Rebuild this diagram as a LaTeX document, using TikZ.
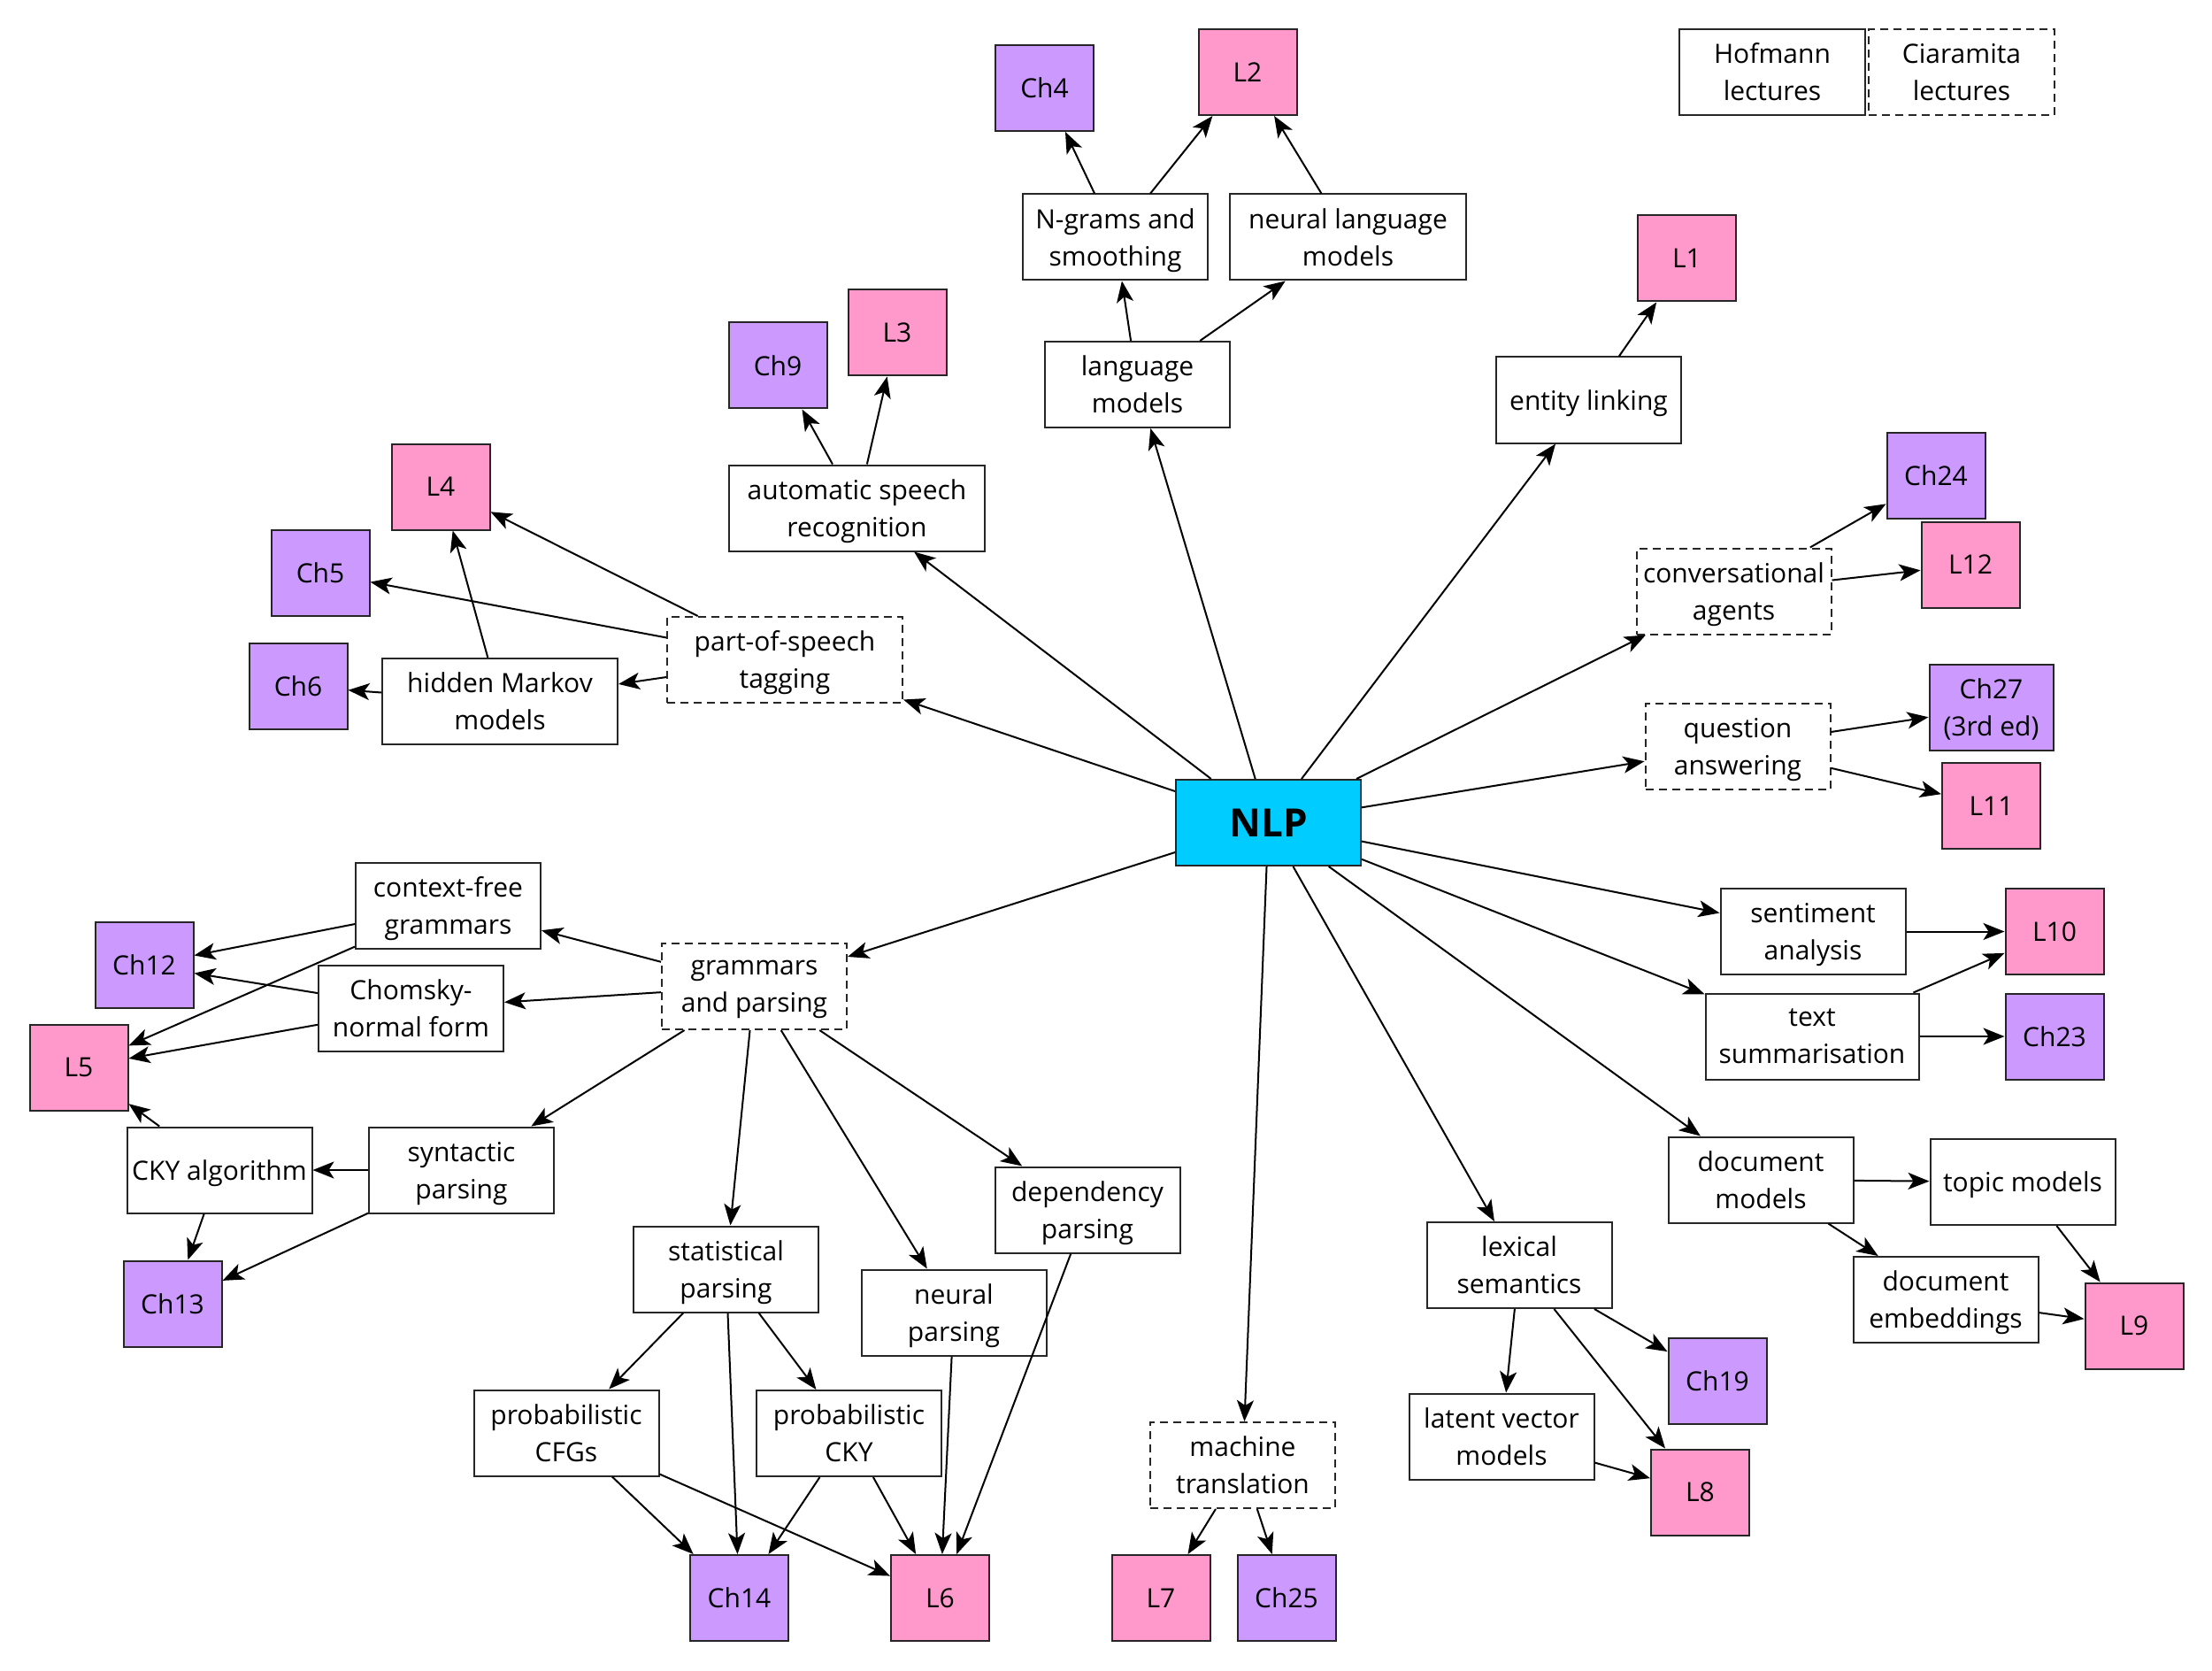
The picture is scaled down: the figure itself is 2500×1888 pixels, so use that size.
\documentclass[tikz,border=0pt]{standalone}
\usepackage{fontspec}
\setmainfont{Open Sans}
\usetikzlibrary{arrows.meta}
\definecolor{chapcol}{HTML}{CC99FF}
\definecolor{lectcol}{HTML}{FF99CC}
\definecolor{nlpcol}{HTML}{00CCFF}
% a line whose descenders do not count when the text is centred in its box
\newcommand\nodesc[1]{\raisebox{0pt}[\height][0pt]{#1}}
\begin{document}
\begin{tikzpicture}[x=0.5pt,y=-0.5pt,
  every node/.style={font=\fontsize{15}{21}\selectfont},
  topic/.style={draw=black!85, line width=1pt, fill=white, align=center,
    inner sep=0pt, minimum width=104.5pt, minimum height=48.5pt},
  ciaramita/.style={topic, dash pattern=on 4.5pt off 3pt},
  chapter/.style={draw=black!85, line width=1pt, fill=chapcol, align=center,
    inner sep=0pt, minimum width=55.5pt, minimum height=48.5pt},
  lecture/.style={chapter, fill=lectcol},
  hub/.style={draw=black!85, line width=1pt, fill=nlpcol, inner sep=0pt,
    minimum width=104.5pt, minimum height=48.5pt,
    font=\fontsize{22}{26}\selectfont\bfseries},
  link/.style={-{Stealth[length=12pt,width=9.5pt,inset=3pt]}, line width=1pt}
]
\fill[white] (0,0) rectangle (2500,1888);
\useasboundingbox (0,0) rectangle (2500,1888);

% legend
\node[topic, minimum width=105pt] (hof) at (2003,81.5) {Hofmann\\lectures};
\node[ciaramita, minimum width=105pt] (cia) at (2217,81.5) {Ciaramita\\lectures};

% centre
\node[hub] (nlp) at (1433.5,929.5) {NLP};

% language models
\node[lecture] (L2) at (1410,81.5) {L2};
\node[chapter] (Ch4) at (1180.5,99.5) {Ch4};
\node[topic] (ngram) at (1260.5,268) {N-grams and\\\nodesc{smoothing}};
\node[topic, minimum width=133.5pt] (nlm) at (1523.5,268) {neural language\\models};
\node[topic] (lm) at (1285.5,434.5) {language\\models};

% entity linking
\node[lecture] (L1) at (1906.5,292) {L1};
\node[topic] (el) at (1795.5,452) {\nodesc{entity linking}};

% speech recognition
\node[chapter] (Ch9) at (879,413) {Ch9};
\node[lecture] (L3) at (1014,376) {L3};
\node[topic, minimum width=144.5pt] (asr) at (968.5,574) {automatic speech\\\nodesc{recognition}};

% tagging
\node[lecture] (L4) at (498,550) {L4};
\node[chapter] (Ch5) at (362,647) {Ch5};
\node[chapter] (Ch6) at (337,775.5) {Ch6};
\node[topic, minimum width=133pt] (hmm) at (565,792.5) {hidden Markov\\models};
\node[ciaramita, minimum width=133pt] (pos) at (887,745.5) {part-of-speech\\\nodesc{tagging}};

% dialogue and QA
\node[chapter] (Ch24) at (2188,537) {Ch24};
\node[lecture] (L12) at (2227,638) {L12};
\node[ciaramita, minimum width=110pt] (conv) at (1959.5,668) {conversational\\\nodesc{agents}};
\node[chapter, minimum width=70pt] (Ch27) at (2250.5,799.5) {Ch27\\\nodesc{(3rd ed)}};
\node[lecture] (L11) at (2250.5,910.5) {L11};
\node[ciaramita] (qa) at (1964,843) {question\\\nodesc{answering}};

% grammars and parsing
\node[topic] (cfg) at (506.5,1023.5) {context-free\\\nodesc{grammars}};
\node[topic] (cnf) at (464.5,1139) {Chomsky-\\normal form};
\node[chapter] (Ch12) at (163,1090.5) {Ch12};
\node[lecture] (L5) at (89,1206) {L5};
\node[ciaramita] (gp) at (852.5,1114.5) {grammars\\\nodesc{and parsing}};
\node[topic] (cky) at (248,1322) {\nodesc{CKY algorithm}};
\node[topic] (synp) at (521.5,1322) {syntactic\\\nodesc{parsing}};
\node[chapter] (Ch13) at (195,1473) {Ch13};
\node[topic] (statp) at (820.5,1434) {statistical\\\nodesc{parsing}};
\node[topic] (neurp) at (1078,1483) {neural\\\nodesc{parsing}};
\node[topic] (depp) at (1229,1367) {dependency\\\nodesc{parsing}};
\node[topic] (pcfg) at (640,1619) {probabilistic\\CFGs};
\node[topic] (pcky) at (959.5,1619.5) {probabilistic\\CKY};
\node[chapter] (Ch14) at (835.5,1805.5) {Ch14};
\node[lecture] (L6) at (1062.5,1805.5) {L6};

% machine translation
\node[ciaramita] (mt) at (1404.5,1655.5) {machine\\translation};
\node[lecture] (L7) at (1312,1805.5) {L7};
\node[chapter] (Ch25) at (1454,1805.5) {Ch25};

% sentiment and summarisation
\node[topic] (sent) at (2049,1052.5) {sentiment\\\nodesc{analysis}};
\node[lecture] (L10) at (2322,1052.5) {L10};
\node[topic, minimum width=120.5pt] (summ) at (2048,1171) {text\\summarisation};
\node[chapter] (Ch23) at (2322,1171) {Ch23};

% document models
\node[topic] (docm) at (1990,1333) {document\\models};
\node[topic] (topm) at (2286,1335.5) {\nodesc{topic models}};
\node[topic] (doce) at (2199,1468.5) {document\\\nodesc{embeddings}};
\node[lecture] (L9) at (2412,1498) {L9};

% lexical semantics
\node[topic] (lex) at (1717,1429.5) {lexical\\semantics};
\node[chapter] (Ch19) at (1941,1560) {Ch19};
\node[topic] (lvm) at (1697,1623) {latent vector\\models};
\node[lecture] (L8) at (1921.5,1686) {L8};

% connectors
\foreach \t in {lm,el,asr,pos,conv,qa,gp,sent,summ,docm,lex,mt}
  \draw[link] (nlp) -- (\t);
\draw[link] (lm) -- (ngram);
\draw[link] (lm) -- (nlm);
\draw[link] (ngram) -- (Ch4);
\draw[link] (ngram) -- (L2);
\draw[link] (nlm) -- (L2);
\draw[link] (el) -- (L1);
\draw[link] (asr) -- (Ch9);
\draw[link] (asr) -- (L3);
\draw[link] (pos) -- (L4);
\draw[link] (pos) -- (Ch5);
\draw[link] (pos) -- (hmm);
\draw[link] (hmm) -- (L4);
\draw[link] (hmm) -- (Ch6);
\draw[link] (conv) -- (Ch24);
\draw[link] (conv) -- (L12);
\draw[link] (qa) -- (Ch27);
\draw[link] (qa) -- (L11);
\foreach \t in {cfg,cnf,synp,statp,neurp,depp}
  \draw[link] (gp) -- (\t);
\draw[link] (cfg) -- (Ch12);
\draw[link] (cfg) -- (L5);
\draw[link] (cnf) -- (Ch12);
\draw[link] (cnf) -- (L5);
\draw[link] (synp) -- (cky);
\draw[link] (synp) -- (Ch13);
\draw[link] (cky) -- (L5);
\draw[link] (cky) -- (Ch13);
\draw[link] (statp) -- (pcfg);
\draw[link] (statp) -- (Ch14);
\draw[link] (statp) -- (pcky);
\draw[link] (pcfg) -- (Ch14);
\draw[link] (pcfg) -- (L6);
\draw[link] (pcky) -- (Ch14);
\draw[link] (pcky) -- (L6);
\draw[link] (neurp) -- (L6);
\draw[link] (depp) -- (L6);
\draw[link] (mt) -- (L7);
\draw[link] (mt) -- (Ch25);
\draw[link] (sent) -- (L10);
\draw[link] (summ) -- (L10);
\draw[link] (summ) -- (Ch23);
\draw[link] (docm) -- (topm);
\draw[link] (docm) -- (doce);
\draw[link] (topm) -- (L9);
\draw[link] (doce) -- (L9);
\draw[link] (lex) -- (lvm);
\draw[link] (lex) -- (Ch19);
\draw[link] (lex) -- (L8);
\draw[link] (lvm) -- (L8);
\end{tikzpicture}
\end{document}
